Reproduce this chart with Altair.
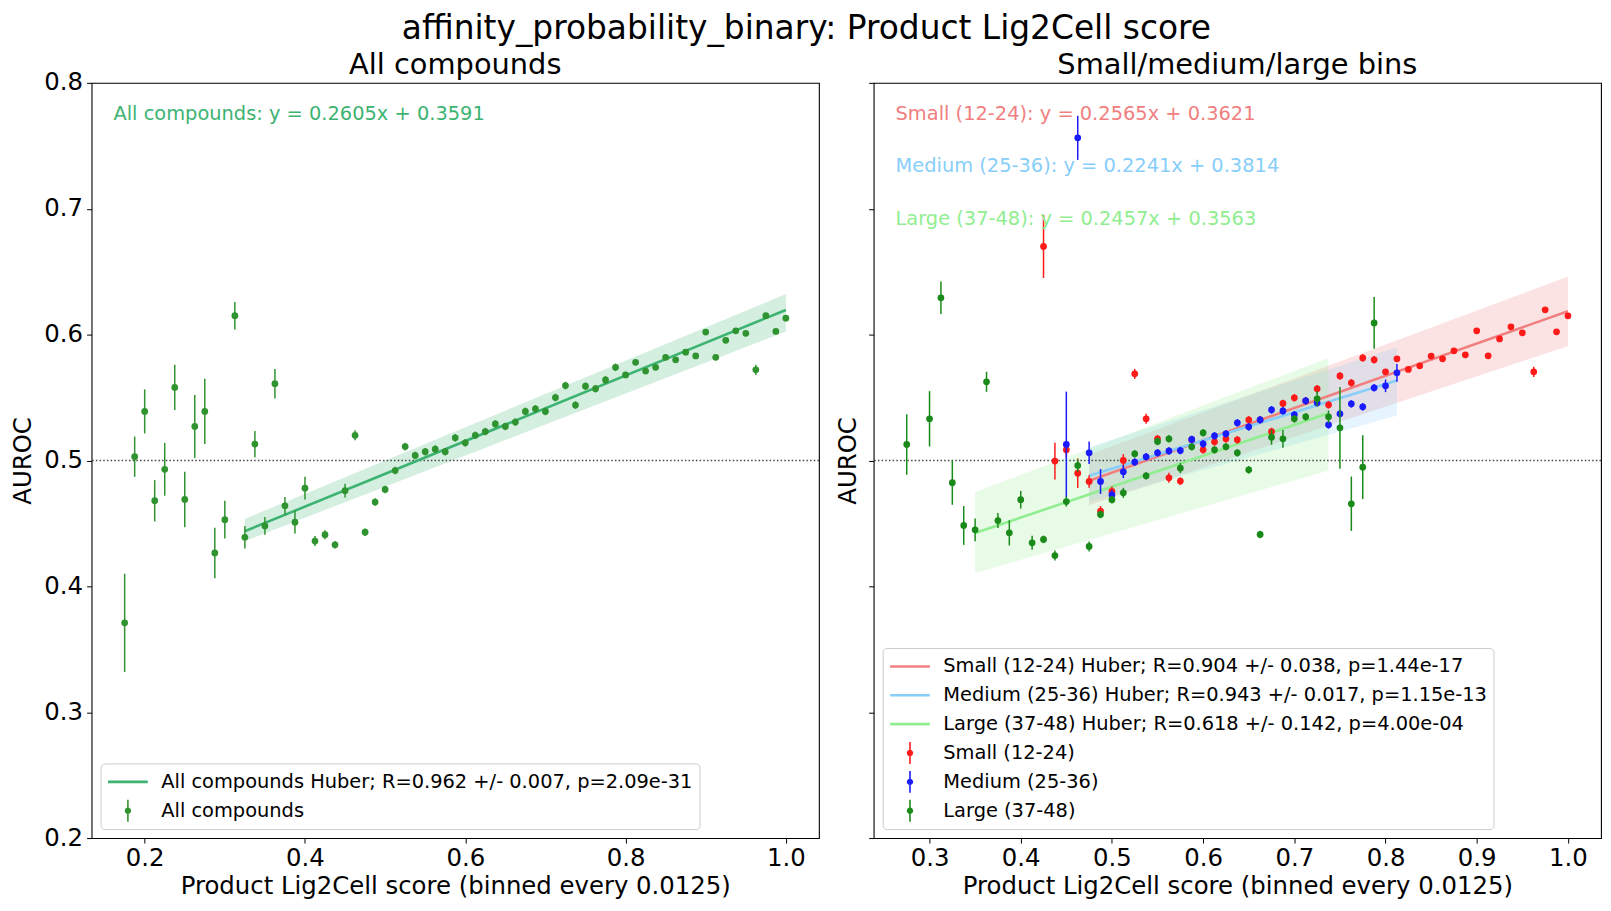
import altair as alt
import pandas as pd

FONT = "DejaVu Sans"

# ---------------- Left panel: all compounds ----------------
all_x = [0.175, 0.1875, 0.2, 0.2125, 0.225, 0.2375, 0.25, 0.2625, 0.275, 0.2875,
         0.3, 0.3125, 0.325, 0.3375, 0.35, 0.3625, 0.375, 0.3875, 0.4, 0.4125,
         0.425, 0.4375, 0.45, 0.4625, 0.475, 0.4875, 0.5, 0.5125, 0.525, 0.5375,
         0.55, 0.5625, 0.575, 0.5875, 0.6, 0.6125, 0.625, 0.6375, 0.65, 0.6625,
         0.675, 0.6875, 0.7, 0.7125, 0.725, 0.7375, 0.75, 0.7625, 0.775, 0.7875,
         0.8, 0.8125, 0.825, 0.8375, 0.85, 0.8625, 0.875, 0.8875, 0.9, 0.9125,
         0.925, 0.9375, 0.95, 0.9625, 0.975, 0.9875, 1.0]
all_y = [0.371, 0.503, 0.539, 0.468, 0.493, 0.558, 0.469, 0.527, 0.539, 0.4265,
         0.453, 0.615, 0.439, 0.513, 0.448, 0.561, 0.464, 0.451, 0.478, 0.436,
         0.441, 0.433, 0.476, 0.520, 0.443, 0.467, 0.477, 0.492, 0.511, 0.504,
         0.507, 0.509, 0.507, 0.518, 0.514, 0.520, 0.523, 0.529, 0.527, 0.5305,
         0.539, 0.541, 0.539, 0.550, 0.5595, 0.544, 0.559, 0.557, 0.564, 0.574,
         0.568, 0.578, 0.571, 0.574, 0.582, 0.580, 0.586, 0.583, 0.602, 0.582,
         0.5955, 0.603, 0.601, 0.572, 0.615, 0.6025, 0.613]
all_err = [0.039, 0.016, 0.0175, 0.0164, 0.021, 0.018, 0.022, 0.025, 0.026, 0.020,
           0.015, 0.011, 0.009, 0.0104, 0.007, 0.0117, 0.007, 0.009, 0.009, 0.004,
           0.0035, 0.003, 0.0055, 0.004, 0.003, 0.003, 0.003, 0.003, 0.003, 0.003,
           0.003, 0.003, 0.003, 0.003, 0.003, 0.003, 0.003, 0.003, 0.003, 0.003,
           0.003, 0.003, 0.003, 0.003, 0.003, 0.003, 0.003, 0.003, 0.003, 0.003,
           0.002, 0.002, 0.002, 0.002, 0.002, 0.002, 0.002, 0.002, 0.002, 0.002,
           0.002, 0.002, 0.002, 0.004, 0.002, 0.002, 0.002]

all_fit_x = [0.325, 1.0]
all_fit_y = [0.4438, 0.6196]
all_band_lo = [0.4360, 0.6025]
all_band_hi = [0.4536, 0.6322]

# ---------------- Right panel: size bins ----------------
small_x = [0.425, 0.4375, 0.45, 0.4625, 0.475, 0.4875, 0.5, 0.5125, 0.525, 0.5375,
           0.55, 0.5625, 0.575, 0.5875, 0.6, 0.6125, 0.625, 0.6375, 0.65, 0.6625,
           0.675, 0.6875, 0.7, 0.7125, 0.725, 0.7375, 0.75, 0.7625, 0.775, 0.7875,
           0.8, 0.8125, 0.825, 0.8375, 0.85, 0.8625, 0.875, 0.8875, 0.9, 0.9125,
           0.925, 0.9375, 0.95, 0.9625, 0.975, 0.9875, 1.0]
small_y = [0.670, 0.4995, 0.5085, 0.4899, 0.4833, 0.4598, 0.4754, 0.500, 0.5688, 0.5331,
           0.5172, 0.4862, 0.4836, 0.5165, 0.5085, 0.5148, 0.5172, 0.5164, 0.5323, 0.5323,
           0.523, 0.5453, 0.5498, 0.5474, 0.5569, 0.5442, 0.5672, 0.5617, 0.5815, 0.580,
           0.5704, 0.5808, 0.5723, 0.5752, 0.5829, 0.5808, 0.5871, 0.5839, 0.603, 0.5831,
           0.5966, 0.6062, 0.6014, 0.5704, 0.6197, 0.6022, 0.6149]
small_err = [0.025, 0.0146, 0.006, 0.0117, 0.005, 0.004, 0.004, 0.005, 0.004, 0.004,
             0.003, 0.004, 0.003, 0.003, 0.003, 0.003, 0.003, 0.003, 0.003, 0.003,
             0.003, 0.003, 0.003, 0.003, 0.003, 0.003, 0.003, 0.003, 0.003, 0.003,
             0.002, 0.002, 0.002, 0.002, 0.002, 0.002, 0.002, 0.002, 0.002, 0.002,
             0.002, 0.002, 0.002, 0.004, 0.002, 0.002, 0.002]

medium_x = [0.45, 0.4625, 0.475, 0.4875, 0.5, 0.5125, 0.525, 0.5375, 0.55, 0.5625,
            0.575, 0.5875, 0.6, 0.6125, 0.625, 0.6375, 0.65, 0.6625, 0.675, 0.6875,
            0.7, 0.7125, 0.725, 0.7375, 0.75, 0.7625, 0.775, 0.7875, 0.8, 0.8125]
medium_y = [0.5127, 0.7563, 0.5061, 0.4833, 0.4727, 0.491, 0.4987, 0.5029, 0.5061, 0.5076,
            0.5079, 0.5167, 0.5132, 0.5196, 0.5212, 0.5299, 0.5267, 0.5323, 0.5402, 0.5394,
            0.5363, 0.5474, 0.5458, 0.5283, 0.5371, 0.545, 0.5426, 0.5577, 0.5593, 0.5696]
medium_err = [0.042, 0.0175, 0.009, 0.0099, 0.004, 0.005, 0.003, 0.003, 0.003, 0.003,
              0.003, 0.003, 0.003, 0.003, 0.003, 0.003, 0.003, 0.003, 0.003, 0.003,
              0.003, 0.003, 0.003, 0.003, 0.003, 0.003, 0.003, 0.003, 0.005, 0.007]

large_x = [0.275, 0.3, 0.3125, 0.325, 0.3375, 0.35, 0.3625, 0.375, 0.3875, 0.4,
           0.4125, 0.425, 0.4375, 0.45, 0.4625, 0.475, 0.4875, 0.5, 0.5125, 0.525,
           0.5375, 0.55, 0.5625, 0.575, 0.5875, 0.6, 0.6125, 0.625, 0.6375, 0.65,
           0.6625, 0.675, 0.6875, 0.7, 0.7125, 0.725, 0.7375, 0.75, 0.7625, 0.775,
           0.7875]
large_y = [0.5127, 0.5331, 0.6292, 0.4823, 0.4484, 0.4449, 0.5625, 0.4523, 0.4425, 0.4688,
           0.4346, 0.4373, 0.4245, 0.4674, 0.4960, 0.4317, 0.4571, 0.4688, 0.4743, 0.5053,
           0.4878, 0.5151, 0.5172, 0.4939, 0.5109, 0.522, 0.5085, 0.5109, 0.5061, 0.4926,
           0.4412, 0.5185, 0.5172, 0.5331, 0.5347, 0.549, 0.5347, 0.5259, 0.4656, 0.4947,
           0.6093]
large_err = [0.024, 0.022, 0.0129, 0.0175, 0.0155, 0.009, 0.008, 0.006, 0.010, 0.007,
             0.0055, 0.003, 0.004, 0.004, 0.005, 0.004, 0.003, 0.003, 0.004, 0.003,
             0.003, 0.003, 0.003, 0.004, 0.003, 0.003, 0.003, 0.003, 0.003, 0.003,
             0.003, 0.006, 0.007, 0.003, 0.003, 0.006, 0.005, 0.0325, 0.0216, 0.0254,
             0.0205]

small_fit_x = [0.475, 1.0]
small_fit_y = [0.4839, 0.6186]
small_band_lo = [0.4645, 0.5908]
small_band_hi = [0.5045, 0.6461]

medium_fit_x = [0.475, 0.8125]
medium_fit_y = [0.4879, 0.5635]
medium_band_lo = [0.4670, 0.5357]
medium_band_hi = [0.5106, 0.5900]

large_fit_x = [0.35, 0.7375]
large_fit_y = [0.4423, 0.5375]
large_band_lo = [0.4105, 0.4921]
large_band_hi = [0.4748, 0.5815]

# ---------------- Texts ----------------
suptitle = "affinity_probability_binary: Product Lig2Cell score"
left_title = "All compounds"
right_title = "Small/medium/large bins"
x_title = "Product Lig2Cell score (binned every 0.0125)"
y_title = "AUROC"

left_annots = ["All compounds: y = 0.2605x + 0.3591"]
right_annots = ["Small (12-24): y = 0.2565x + 0.3621",
                "Medium (25-36): y = 0.2241x + 0.3814",
                "Large (37-48): y = 0.2457x + 0.3563"]

left_legend = ["All compounds Huber; R=0.962 +/- 0.007, p=2.09e-31", "All compounds"]
right_legend = ["Small (12-24) Huber; R=0.904 +/- 0.038, p=1.44e-17",
                "Medium (25-36) Huber; R=0.943 +/- 0.017, p=1.15e-13",
                "Large (37-48) Huber; R=0.618 +/- 0.142, p=4.00e-04",
                "Small (12-24)", "Medium (25-36)", "Large (37-48)"]

left_xticks = [0.2, 0.4, 0.6, 0.8, 1.0]
right_xticks = [0.3, 0.4, 0.5, 0.6, 0.7, 0.8, 0.9, 1.0]
y_ticks = [0.2, 0.3, 0.4, 0.5, 0.6, 0.7, 0.8]

# ---------------- Styles ----------------
C_ALL_PT = "#2f932f"
C_ALL_LINE = "#3cb371"
C_RED = "#ff1a1a"
C_BLUE = "#1a1aff"
C_GREEN = "#1a8a1a"
C_CORAL = "#f08080"
C_SKY = "#87cefa"
C_LGREEN = "#90ee90"

ERRBAR_SHAPE = ("M-0.16,0 A0.16,0.16 0 1,1 0.16,0 A0.16,0.16 0 1,1 -0.16,0 Z "
                "M-0.04,-0.55 L0.04,-0.55 L0.04,0.55 L-0.04,0.55 Z")

W, H = 731, 759


def make_panel(title, title_offset, xdomain, xticks, show_ylabels, series, fits, annots,
               annot_colors, legend_labels, legend_fill, legend_stroke, legend_shape):
    xscale = alt.Scale(domain=xdomain, nice=False, zero=False)
    yscale = alt.Scale(domain=[0.2, 0.8], nice=False, zero=False)
    xaxis = alt.Axis(values=xticks, format=".1f", title=x_title, titlePadding=4)
    yaxis = alt.Axis(values=y_ticks, format=".1f", title=y_title, labels=show_ylabels,
                     titlePadding=8)

    def X(f):
        return alt.X(f, type="quantitative", scale=xscale, axis=xaxis)

    def Y(f):
        return alt.Y(f, type="quantitative", scale=yscale, axis=yaxis)

    layers = []
    # confidence bands
    for fx, lo, hi, col, _fy in fits:
        df = pd.DataFrame({"x": fx, "lo": lo, "hi": hi})
        layers.append(alt.Chart(df).mark_area(color=col, opacity=0.22).encode(
            x=X("x"), y=Y("lo"), y2="hi"))
    # reference line at 0.5
    layers.append(alt.Chart(pd.DataFrame({"r": [0.5]})).mark_rule(
        color="#333333", strokeDash=[1.5, 2.2], strokeWidth=1.5, opacity=0.9).encode(
        y=Y("r")))
    # fit lines
    for fx, lo, hi, col, fy in fits:
        df = pd.DataFrame({"x": fx, "y": fy})
        layers.append(alt.Chart(df).mark_line(color=col, strokeWidth=2.6).encode(
            x=X("x"), y=Y("y")))
    # data points with error bars
    for xs, ys, es, col in series:
        df = pd.DataFrame({"x": xs, "y": ys, "err": es})
        base = alt.Chart(df).transform_calculate(
            lo="datum.y - datum.err", hi="datum.y + datum.err")
        layers.append(base.mark_rule(color=col, strokeWidth=1.5).encode(
            x=X("x"), y=Y("lo"), y2="hi"))
        layers.append(base.mark_circle(color=col, size=46, opacity=1).encode(
            x=X("x"), y=Y("y")))
    # annotations
    for i, (txt, col) in enumerate(zip(annots, annot_colors)):
        layers.append(alt.Chart(pd.DataFrame({"t": [txt]})).mark_text(
            align="left", baseline="middle", font=FONT, fontSize=19.5, color=col).encode(
            text="t:N", x=alt.value(22), y=alt.value(31 + 53 * i)))
    # legend carrier (clipped off-view)
    leg = alt.Legend(title=None, orient="bottom-left", offset=9, labelFont=FONT,
                     labelFontSize=19.5, labelColor="black", labelLimit=0,
                     symbolSize=1600, symbolStrokeWidth=2.6, clipHeight=25,
                     rowPadding=4, symbolOpacity=1, labelOffset=12, padding=6,
                     fillColor="rgba(255,255,255,0.8)",
                     strokeColor="#cccccc", cornerRadius=4)
    ldf = pd.DataFrame({"label": legend_labels})
    layers.append(alt.Chart(ldf).mark_point(filled=True, clip=True, opacity=1).encode(
        x=alt.value(-2000), y=alt.value(-2000),
        fill=alt.Fill("label:N", scale=alt.Scale(domain=legend_labels, range=legend_fill),
                      legend=leg),
        stroke=alt.Stroke("label:N", scale=alt.Scale(domain=legend_labels, range=legend_stroke),
                          legend=leg),
        shape=alt.Shape("label:N", scale=alt.Scale(domain=legend_labels, range=legend_shape),
                        legend=leg)))

    return alt.layer(*layers).properties(
        width=W, height=H,
        title=alt.TitleParams(title, font=FONT, fontSize=29, fontWeight="normal",
                              color="black", offset=title_offset))


left = make_panel(
    left_title, -10, [0.13375, 1.04125], left_xticks, True,
    [(all_x, all_y, all_err, C_ALL_PT)],
    [(all_fit_x, all_band_lo, all_band_hi, C_ALL_LINE, all_fit_y)],
    left_annots, [C_ALL_LINE],
    left_legend, [C_ALL_LINE, C_ALL_PT], [C_ALL_LINE, "transparent"],
    ["stroke", ERRBAR_SHAPE])

right = make_panel(
    right_title, 2, [0.23875, 1.03625], right_xticks, False,
    [(small_x, small_y, small_err, C_RED),
     (medium_x, medium_y, medium_err, C_BLUE),
     (large_x, large_y, large_err, C_GREEN)],
    [(small_fit_x, small_band_lo, small_band_hi, C_CORAL, small_fit_y),
     (medium_fit_x, medium_band_lo, medium_band_hi, C_SKY, medium_fit_y),
     (large_fit_x, large_band_lo, large_band_hi, C_LGREEN, large_fit_y)],
    right_annots, [C_CORAL, C_SKY, C_LGREEN],
    right_legend, [C_CORAL, C_SKY, C_LGREEN, C_RED, C_BLUE, C_GREEN],
    [C_CORAL, C_SKY, C_LGREEN, "transparent", "transparent", "transparent"],
    ["stroke", "stroke", "stroke", ERRBAR_SHAPE, ERRBAR_SHAPE, ERRBAR_SHAPE])

chart = alt.hconcat(left, right, spacing=13).resolve_scale(
    x="independent", y="independent", fill="independent", stroke="independent",
    shape="independent").resolve_legend(
    fill="independent", stroke="independent", shape="independent").properties(
    title=alt.TitleParams(suptitle, font=FONT, fontSize=33, fontWeight="normal",
                          color="black", anchor="middle", offset=5),
    padding={"left": 2, "top": 2, "right": 0, "bottom": 0},
).configure_view(stroke="black", strokeWidth=1.1).configure_axis(
    labelFont=FONT, titleFont=FONT, labelFontSize=24.5, titleFontSize=24.5,
    labelColor="black", titleColor="black", tickColor="black", tickSize=5,
    labelPadding=4, domain=False, grid=False, titleFontWeight="normal"
)

chart.save("out.html", embed_options={"renderer": "svg", "actions": False})
